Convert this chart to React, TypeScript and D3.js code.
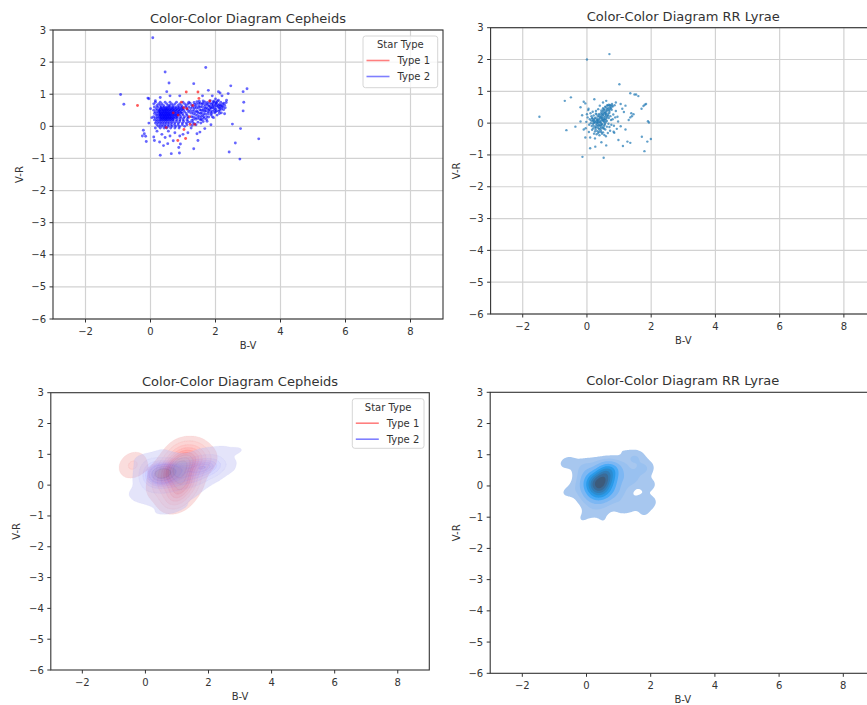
import React from "react";
import * as d3 from "d3";

// ---------------- data ----------------
const xTicks = [-2, 0, 2, 4, 6, 8];
const yTicks = [3, 2, 1, 0, -1, -2, -3, -4, -5, -6];
const xDomain: [number, number] = [-3, 9];
const yDomain: [number, number] = [-6, 3];
const starTypes = ["Type 1", "Type 2"];
const starColors = ["red", "blue"];
const rrColor = "#1f77b4";
const titleCepheids = "Color-Color Diagram Cepheids";
const titleRR = "Color-Color Diagram RR Lyrae";

const cepheidType1: [number, number][] = [
  [-0.4, 0.65], [1.1, 1.07], [1.46, 1.07], [1.49, 0.87], [1.82, 0.79],
  [1.02, 0.58], [1.12, 0.55], [1.22, 0.06], [1.36, 0.06], [0.48, -0.04], [1.03, -0.1],
  [0.84, -0.44], [1.08, -0.38], [0.7, 0.42], [0.85, 0.35], [1.3, 0.65], [1.2, 0.3], [0.95, 0.75],
];

const cepheidType2Outliers: [number, number][] = [
  [0.07, 2.76], [1.7, 1.83], [0.45, 1.69], [0.57, 1.35], [1.33, 1.33], [2.47, 1.26], [2.97, 1.17],
  [2.85, 1.08], [1.78, 1.12], [2.09, 1.08], [2.14, 1.04], [0.5, 1.08], [-0.92, 0.99], [-0.82, 0.69],
  [-0.08, 0.88], [-0.05, 0.86], [2.39, 1.02], [2.34, 0.81], [2.87, 0.75], [2.85, 0.48], [2.28, 0.39],
  [2.52, 0.07], [2.77, -0.07], [3.33, -0.39], [2.61, -0.52], [2.42, -0.8], [2.75, -1.02], [1.86, 0.05],
  [1.67, -0.07], [1.46, -0.44], [1.43, -0.23], [1.52, -0.18], [1.33, -0.7], [0.87, -0.66], [0.89, -0.83],
  [0.92, -0.55], [0.64, -0.85], [0.53, -0.54], [0.3, -0.9], [0.28, -0.49], [0.1, -0.33], [0.12, -0.44],
  [-0.22, -0.12], [-0.19, -0.23], [-0.15, -0.31], [-0.25, -0.3], [-0.13, -0.47], [0.04, 0.27], [0.0, 0.55],
  [-0.05, 0.1], [0.35, -0.25], [0.45, -0.35], [0.6, -0.3], [0.7, -0.45], [0.75, -0.2], [0.2, -0.15],
  [0.15, -0.05], [0.55, -0.15], [1.0, -0.25], [1.15, -0.2], [1.25, -0.05], [0.9, -0.3], [0.4, -0.6],
  [1.9, 0.95], [2.0, 0.85], [2.2, 0.95], [1.6, 0.95], [0.9, 0.95], [0.3, 0.9], [0.15, 0.8], [0.6, 0.95],
];

// rows of the dense left core: [V-R, list of B-V]
const cepheidType2Rows: [number, number[]][] = [
  [0.75, [0.15, 0.3, 0.45, 0.6, 0.8, 1.0, 1.18]],
  [0.7, [0.1, 0.25, 0.35, 0.5, 0.65, 0.75, 0.9, 1.05, 1.15]],
  [0.65, [0.2, 0.3, 0.4, 0.55, 0.6, 0.7, 0.85, 0.95, 1.1]],
  [0.6, [0.12, 0.22, 0.33, 0.42, 0.5, 0.58, 0.68, 0.78, 0.88, 0.98, 1.08, 1.18]],
  [0.55, [0.18, 0.28, 0.36, 0.45, 0.52, 0.62, 0.7, 0.8, 0.9, 1.0, 1.12]],
  [0.5, [0.1, 0.2, 0.27, 0.35, 0.42, 0.48, 0.55, 0.63, 0.72, 0.82, 0.92, 1.02, 1.15]],
  [0.45, [0.15, 0.24, 0.3, 0.38, 0.45, 0.5, 0.58, 0.66, 0.75, 0.85, 0.95, 1.05, 1.18]],
  [0.4, [0.12, 0.2, 0.28, 0.34, 0.4, 0.47, 0.53, 0.6, 0.68, 0.78, 0.88, 0.98, 1.1]],
  [0.35, [0.18, 0.25, 0.32, 0.38, 0.44, 0.5, 0.56, 0.63, 0.72, 0.8, 0.9, 1.0, 1.12]],
  [0.3, [0.1, 0.2, 0.27, 0.33, 0.4, 0.46, 0.52, 0.58, 0.65, 0.74, 0.83, 0.93, 1.05, 1.15]],
  [0.25, [0.15, 0.23, 0.3, 0.37, 0.43, 0.5, 0.57, 0.64, 0.72, 0.82, 0.92, 1.02, 1.15]],
  [0.2, [0.12, 0.2, 0.28, 0.35, 0.42, 0.48, 0.55, 0.62, 0.7, 0.8, 0.9, 1.0, 1.12]],
  [0.15, [0.18, 0.26, 0.33, 0.4, 0.47, 0.54, 0.62, 0.7, 0.8, 0.9, 1.02, 1.15]],
  [0.1, [0.15, 0.24, 0.32, 0.4, 0.48, 0.56, 0.65, 0.75, 0.86, 0.98, 1.1]],
  [0.05, [0.2, 0.3, 0.38, 0.46, 0.55, 0.64, 0.74, 0.85, 0.98, 1.12]],
  [0.0, [0.25, 0.35, 0.45, 0.55, 0.66, 0.78, 0.9, 1.05]],
  [-0.05, [0.3, 0.42, 0.5, 0.62, 0.75, 0.88]],
  [0.57, [0.32, 0.4, 0.48, 0.56, 0.65, 0.74, 0.84, 0.95]],
  [0.52, [0.3, 0.38, 0.46, 0.53, 0.6, 0.68, 0.77, 0.87, 0.97]],
  [0.47, [0.28, 0.36, 0.43, 0.52, 0.6, 0.69, 0.78, 0.88]],
  [0.42, [0.3, 0.37, 0.44, 0.51, 0.57, 0.65, 0.73, 0.83, 0.93]],
  [0.37, [0.29, 0.35, 0.42, 0.48, 0.55, 0.6, 0.68, 0.76, 0.85]],
  [0.32, [0.3, 0.37, 0.43, 0.49, 0.55, 0.62, 0.7, 0.8]],
  [0.27, [0.33, 0.4, 0.47, 0.54, 0.6, 0.68, 0.77]],
  [0.22, [0.32, 0.39, 0.46, 0.52, 0.6, 0.68]],
];

// the sparser right-hand part of the Cepheid cluster
const cepheidType2Right: [number, number][] = [
  [1.22, 0.72], [1.25, 0.41], [1.27, 0.18], [1.29, 0.6], [1.31, 0.29], [1.33, 0.52], [1.35, 0.08], [1.36, 0.68],
  [1.38, 0.37], [1.4, 0.22], [1.41, 0.57], [1.43, 0.77], [1.45, 0.45], [1.46, 0.13], [1.48, 0.63], [1.5, 0.31],
  [1.52, 0.51], [1.53, 0.72], [1.55, 0.2], [1.57, 0.42], [1.58, 0.61], [1.6, 0.34], [1.62, 0.79], [1.63, 0.54],
  [1.65, 0.25], [1.67, 0.47], [1.68, 0.67], [1.7, 0.38], [1.72, 0.58], [1.74, 0.16], [1.75, 0.74], [1.77, 0.45],
  [1.79, 0.29], [1.8, 0.63], [1.82, 0.52], [1.84, 0.8], [1.86, 0.36], [1.88, 0.69], [1.9, 0.47], [1.92, 0.58],
  [1.94, 0.27], [1.95, 0.76], [1.97, 0.42], [1.99, 0.64], [2.01, 0.53], [2.03, 0.72], [2.05, 0.35], [2.07, 0.6],
  [2.09, 0.81], [2.1, 0.47], [2.12, 0.68], [2.14, 0.56], [2.16, 0.75], [2.18, 0.42], [2.2, 0.62], [2.22, 0.7],
  [2.25, 0.52], [2.28, 0.66], [2.3, 0.58], [2.33, 0.74], [1.24, 0.56], [1.3, 0.46], [1.34, 0.74], [1.39, 0.63],
  [1.44, 0.34], [1.49, 0.71], [1.54, 0.4], [1.59, 0.69], [1.64, 0.39], [1.69, 0.55], [1.73, 0.7], [1.78, 0.39],
  [1.83, 0.62], [1.87, 0.56], [1.91, 0.72], [1.96, 0.5], [2.0, 0.45], [2.04, 0.64], [2.11, 0.58], [2.17, 0.66],
  [1.26, 0.3], [1.37, 0.27], [1.47, 0.57], [1.56, 0.3], [1.66, 0.61], [1.76, 0.55], [1.85, 0.45], [1.93, 0.66],
  [2.02, 0.74], [2.13, 0.5], [1.21, 0.12], [1.28, 0.03], [1.32, 0.39], [1.42, 0.48], [1.51, 0.23], [1.61, 0.49],
  [1.23, 0.49], [1.27, 0.66], [1.32, 0.21], [1.35, 0.58], [1.38, 0.45], [1.42, 0.7], [1.45, 0.26], [1.48, 0.41],
  [1.5, 0.78], [1.53, 0.6], [1.56, 0.5], [1.58, 0.22], [1.61, 0.72], [1.64, 0.3], [1.67, 0.76], [1.7, 0.48],
  [1.73, 0.3], [1.76, 0.66], [1.79, 0.5], [1.82, 0.72], [1.85, 0.58], [1.88, 0.4], [1.91, 0.62], [1.94, 0.78],
  [1.97, 0.57], [2.0, 0.7], [2.03, 0.48], [2.06, 0.78], [2.09, 0.66], [2.12, 0.4], [2.15, 0.62], [2.19, 0.54],
  [2.23, 0.6], [2.26, 0.72], [1.3, 0.12], [1.4, 0.05], [1.55, 0.1], [1.62, 0.15], [1.72, 0.22], [1.9, 0.3],
];

const rrLyraeOutliers: [number, number][] = [
  [-1.48, 0.2], [0.0, 2.0], [0.7, 2.17], [1.01, 1.22], [1.35, 0.94], [1.48, 0.9], [1.53, 0.9],
  [-0.69, 0.7], [-0.5, 0.81], [-0.1, 0.67], [-0.05, 0.62], [0.23, 0.75], [1.84, 0.6], [1.76, 0.54],
  [1.8, 0.58], [1.7, 0.45], [1.38, 0.31], [1.4, 0.22], [1.35, 0.18], [1.45, 0.28], [1.9, 0.06],
  [1.93, 0.02], [1.99, -0.5], [1.88, -0.58], [1.71, -0.43], [1.79, -0.88], [-0.64, -0.22], [-0.36, -0.11],
  [-0.14, -1.06], [0.52, -1.09], [0.1, -0.79], [0.26, -0.74], [1.12, -0.72], [1.26, -0.58], [1.35, -0.62],
  [0.98, -0.53], [0.6, -0.7], [0.45, -0.6], [-0.2, 0.5], [-0.15, 0.25], [-0.2, 0.05], [-0.1, -0.2],
  [-0.05, -0.45], [0.05, 0.45], [1.1, 0.45], [1.2, 0.55], [1.05, 0.6], [0.95, 0.2], [1.2, -0.2],
  [1.05, -0.1], [0.85, -0.3], [1.3, 0.1], [1.6, 0.85], [0.9, 0.65], [0.6, 0.7], [0.5, 0.65],
  [0.4, 0.55], [1.15, 0.35],
];

const rrLyraeCore: [number, number][] = [
  [0.02, 0.18], [0.07, -0.05], [0.11, 0.31], [0.13, 0.08], [0.16, -0.21], [0.17, 0.14], [0.19, -0.02], [0.21, 0.24],
  [0.22, -0.33], [0.24, 0.05], [0.26, -0.12], [0.27, 0.17], [0.28, 0.38], [0.29, -0.06], [0.31, 0.09], [0.32, -0.25],
  [0.33, 0.02], [0.34, 0.21], [0.35, -0.15], [0.36, 0.11], [0.37, -0.04], [0.38, 0.29], [0.39, -0.38], [0.4, 0.06],
  [0.41, -0.09], [0.42, 0.16], [0.43, -0.22], [0.44, 0.01], [0.45, 0.34], [0.46, -0.13], [0.47, 0.12], [0.48, -0.03],
  [0.49, 0.25], [0.5, -0.29], [0.51, 0.07], [0.52, 0.44], [0.53, -0.17], [0.54, 0.19], [0.55, -0.06], [0.56, 0.31],
  [0.57, 0.52], [0.58, 0.03], [0.59, -0.41], [0.6, 0.14], [0.61, 0.39], [0.62, -0.11], [0.63, 0.56], [0.64, 0.23],
  [0.66, 0.47], [0.67, -0.02], [0.68, 0.58], [0.7, 0.33], [0.71, 0.51], [0.72, -0.24], [0.74, 0.55], [0.75, 0.1],
  [0.77, 0.42], [0.78, 0.6], [0.8, 0.52], [0.82, 0.27], [0.84, -0.08], [0.86, 0.56], [0.9, 0.38], [0.93, -0.18],
  [0.97, 0.05], [-0.02, 0.04], [-0.04, -0.16], [0.0, 0.28], [0.04, 0.41], [0.06, -0.28], [0.09, 0.12], [0.1, -0.45],
  [0.14, 0.22], [0.15, -0.09], [0.18, 0.36], [0.2, -0.16], [0.23, 0.11], [0.25, -0.48], [0.27, -0.2], [0.3, 0.27],
  [0.3, -0.35], [0.32, 0.13], [0.35, 0.44], [0.36, -0.07], [0.38, -0.27], [0.4, 0.2], [0.42, -0.16], [0.44, 0.28],
  [0.46, -0.05], [0.47, -0.33], [0.49, 0.1], [0.5, 0.38], [0.52, -0.1], [0.54, -0.37], [0.55, 0.12], [0.57, -0.2],
  [0.6, 0.28], [0.62, 0.07], [0.65, -0.31], [0.68, 0.16], [0.7, -0.12], [0.73, 0.22], [0.76, -0.05], [0.8, 0.12],
  [0.83, -0.27], [0.88, 0.18], [0.12, 0.0], [0.18, 0.06], [0.21, -0.08], [0.24, 0.15], [0.26, 0.02], [0.28, -0.14],
  [0.3, 0.05], [0.33, -0.1], [0.34, 0.08], [0.36, 0.03], [0.38, -0.19], [0.39, 0.14], [0.41, 0.02], [0.43, -0.06],
  [0.45, 0.08], [0.48, 0.18], [0.5, -0.16], [0.53, 0.04], [0.56, -0.02], [0.58, 0.21], [0.2, 0.09], [0.25, -0.26],
  [0.31, -0.01], [0.37, 0.24], [0.44, -0.28], [0.51, 0.26], [0.28, 0.3], [0.16, 0.16], [0.22, 0.01], [0.35, -0.31],
  [0.45, 0.4], [0.5, 0.47], [0.55, 0.42], [0.58, 0.5], [0.62, 0.45], [0.65, 0.55], [0.69, 0.43], [0.72, 0.57],
  [0.75, 0.48], [0.79, 0.55], [0.52, 0.32], [0.56, 0.36], [0.6, 0.33], [0.64, 0.4], [0.67, 0.3], [0.7, 0.38],
  [0.73, 0.45], [0.48, 0.3], [0.44, 0.22], [0.58, 0.26], [0.62, 0.18], [0.66, 0.24], [0.53, 0.13], [0.57, 0.09],
  [0.46, 0.17],
];

const expandRows = (rows: [number, number[]][]): [number, number][] =>
  rows.flatMap(([y, xs]) => xs.map((x) => [x, y] as [number, number]));

const cepheidType2: [number, number][] = [...cepheidType2Outliers, ...expandRows(cepheidType2Rows), ...cepheidType2Right];
const rrLyrae: [number, number][] = [...rrLyraeOutliers, ...rrLyraeCore];

// ---------------- HUSL colormap (seaborn-style) ----------------
const HM = [
  [3.240969941904521, -1.537383177570093, -0.498610760293],
  [-0.96924363628087, 1.87596750150772, 0.041555057407175],
  [0.055630079696993, -0.20397695888897, 1.056971514242878],
];
const HMINV = [
  [0.41239079926595, 0.35758433938387, 0.18048078840183],
  [0.21263900587151, 0.71516867876775, 0.072192315360733],
  [0.019330818715591, 0.11919477979462, 0.95053215224966],
];
const REFU = 0.19783000664283;
const REFV = 0.46831999493879;
const KAPPA = 903.2962962;
const EPS = 0.0088564516;

function getBounds(L: number) {
  const res: [number, number][] = [];
  const sub1 = Math.pow(L + 16, 3) / 1560896;
  const sub2 = sub1 > EPS ? sub1 : L / KAPPA;
  for (let c = 0; c < 3; c++) {
    const [m1, m2, m3] = HM[c];
    for (let t = 0; t < 2; t++) {
      const top1 = (284517 * m1 - 94839 * m3) * sub2;
      const top2 = (838422 * m3 + 769860 * m2 + 731718 * m1) * L * sub2 - 769860 * t * L;
      const bottom = (632260 * m3 - 126452 * m2) * sub2 + 126452 * t;
      res.push([top1 / bottom, top2 / bottom]);
    }
  }
  return res;
}
function maxChroma(L: number, H: number) {
  const hr = (H / 360) * Math.PI * 2;
  let m = Infinity;
  for (const [s, i] of getBounds(L)) {
    const len = i / (Math.sin(hr) - s * Math.cos(hr));
    if (len >= 0) m = Math.min(m, len);
  }
  return m;
}
const fromLinear = (c: number) => (c <= 0.0031308 ? 12.92 * c : 1.055 * Math.pow(c, 1 / 2.4) - 0.055);
const toLinear = (c: number) => (c > 0.04045 ? Math.pow((c + 0.055) / 1.055, 2.4) : c / 12.92);
function husl2rgb(H: number, S: number, L: number) {
  if (L > 99.9999999) return [1, 1, 1];
  if (L < 1e-8) return [0, 0, 0];
  const C = (maxChroma(L, H) / 100) * S;
  const hr = (H / 360) * 2 * Math.PI;
  const U = C * Math.cos(hr);
  const V = C * Math.sin(hr);
  const varU = U / (13 * L) + REFU;
  const varV = V / (13 * L) + REFV;
  const Y = L <= 8 ? L / KAPPA : Math.pow((L + 16) / 116, 3);
  const X = 0 - (9 * Y * varU) / ((varU - 4) * varV - varU * varV);
  const Z = (9 * Y - 15 * varV * Y - varV * X) / (3 * varV);
  return HM.map((r) => fromLinear(r[0] * X + r[1] * Y + r[2] * Z));
}
function rgb2husl(r: number, g: number, b: number) {
  const lr = toLinear(r), lg = toLinear(g), lb = toLinear(b);
  const [X, Y, Z] = HMINV.map((row) => row[0] * lr + row[1] * lg + row[2] * lb);
  const L = Y <= EPS ? Y * KAPPA : 116 * Math.cbrt(Y) - 16;
  if (L < 1e-8) return [0, 0, 0];
  const d = X + 15 * Y + 3 * Z;
  const U = 13 * L * ((4 * X) / d - REFU);
  const V = 13 * L * ((9 * Y) / d - REFV);
  const C = Math.hypot(U, V);
  let H = (Math.atan2(V, U) * 180) / Math.PI;
  if (H < 0) H += 360;
  const S = (C / maxChroma(L, H)) * 100;
  return [H, S, L];
}
function cmapFromColor(color: string) {
  const c = d3.rgb(color);
  const [h, s] = rgb2husl(c.r / 255, c.g / 255, c.b / 255);
  const cols: string[] = [];
  for (let i = 0; i < 256; i++) {
    const xx = -1 + (2 * i) / 293;
    const L = 35 + (45 * i) / 255;
    const rgb = husl2rgb(h, s * Math.cos(xx), L).map((v) => Math.max(0, Math.min(1, v)));
    cols.push(d3.rgb(rgb[0] * 255, rgb[1] * 255, rgb[2] * 255).formatHex());
  }
  cols.reverse();
  return (t: number) => cols[Math.max(0, Math.min(255, Math.floor(t * 256)))];
}

// ---------------- KDE (scipy-like, Scott bandwidth) ----------------
type Grid = { values: number[]; nx: number; ny: number; gx0: number; gy0: number; dx: number; dy: number };
function kdeGrid(points: [number, number][], nx = 140, ny = 140): Grid {
  const n = points.length;
  const mx = d3.mean(points, (p) => p[0])!;
  const my = d3.mean(points, (p) => p[1])!;
  let sxx = 0, syy = 0, sxy = 0;
  for (const [x, y] of points) {
    sxx += (x - mx) ** 2;
    syy += (y - my) ** 2;
    sxy += (x - mx) * (y - my);
  }
  const f = Math.pow(n, -1 / 6);
  const cxx = (sxx / (n - 1)) * f * f;
  const cyy = (syy / (n - 1)) * f * f;
  const cxy = (sxy / (n - 1)) * f * f;
  const det = cxx * cyy - cxy * cxy;
  const ixx = cyy / det, iyy = cxx / det, ixy = -cxy / det;
  const bx = Math.sqrt(cxx), by = Math.sqrt(cyy);
  const [xmin, xmax] = d3.extent(points, (p) => p[0]) as [number, number];
  const [ymin, ymax] = d3.extent(points, (p) => p[1]) as [number, number];
  const gx0 = xmin - 3 * bx, gx1 = xmax + 3 * bx;
  const gy0 = ymin - 3 * by, gy1 = ymax + 3 * by;
  const dx = (gx1 - gx0) / (nx - 1), dy = (gy1 - gy0) / (ny - 1);
  const values = new Array(nx * ny).fill(0);
  for (let j = 0; j < ny; j++) {
    const y = gy0 + j * dy;
    for (let i = 0; i < nx; i++) {
      const x = gx0 + i * dx;
      let s = 0;
      for (let k = 0; k < n; k++) {
        const ex = x - points[k][0], ey = y - points[k][1];
        s += Math.exp(-0.5 * (ixx * ex * ex + 2 * ixy * ex * ey + iyy * ey * ey));
      }
      values[j * nx + i] = s;
    }
  }
  return { values, nx, ny, gx0, gy0, dx, dy };
}
function isoLevels(values: number[], nLevels = 10, thresh = 0.05) {
  const sorted = [...values].sort((a, b) => b - a);
  const total = d3.sum(sorted);
  let acc = 0;
  const cum = sorted.map((v) => (acc += v) / total);
  const props = d3.range(nLevels).map((i) => thresh + ((1 - thresh) * i) / (nLevels - 1));
  return props.map((q) => sorted[Math.min(sorted.length - 1, d3.bisectLeft(cum, 1 - q))]);
}

type Panel = { left: number; right: number; top: number; bottom: number };

function KdeBands({ grid, sx, sy, color, alpha, annuli }: { grid: Grid; sx: any; sy: any; color: string; alpha: number; annuli: boolean }) {
  const levels = isoLevels(grid.values);
  const cmap = cmapFromColor(color);
  const gen = d3.contours().size([grid.nx, grid.ny]);
  const proj = d3.geoTransform({
    point(x: number, y: number) {
      (this as any).stream.point(sx(grid.gx0 + (x - 0.5) * grid.dx), sy(grid.gy0 + (y - 0.5) * grid.dy));
    },
  });
  const path = d3.geoPath(proj as any);
  const lo = levels[0], hi = levels[levels.length - 1];
  const bands = [];
  for (let i = 0; i < levels.length - 1; i++) {
    const lower = path(gen.contour(grid.values, levels[i]) as any) || "";
    const upper = annuli && i < levels.length - 2 ? path(gen.contour(grid.values, levels[i + 1]) as any) || "" : "";
    const mid = (levels[i] + levels[i + 1]) / 2;
    const c = cmap((mid - lo) / (hi - lo));
    bands.push(
      <path key={i} d={lower + upper} fill={c} fillRule="evenodd" fillOpacity={alpha}
        stroke={annuli ? c : "none"} strokeOpacity={alpha * 0.45} strokeWidth={0.5} />
    );
  }
  return <g>{bands}</g>;
}

function Axes({ p, id, title, grid, children }: { p: Panel; id: string; title: string; grid: boolean; children: (sx: any, sy: any) => React.ReactNode }) {
  const sx = d3.scaleLinear().domain(xDomain).range([p.left, p.right]);
  const sy = d3.scaleLinear().domain(yDomain).range([p.bottom, p.top]);
  const fmt = (t: number) => (t < 0 ? "\u2212" + Math.abs(t) : String(t));
  const axisColor = "#333";
  return (
    <g>
      <defs>
        <clipPath id={id}>
          <rect x={p.left} y={p.top} width={p.right - p.left} height={p.bottom - p.top} />
        </clipPath>
      </defs>
      {grid && (
        <g stroke="#d2d2d2" strokeWidth={1.2}>
          {xTicks.map((t) => <line key={"gx" + t} x1={sx(t)} x2={sx(t)} y1={p.top} y2={p.bottom} />)}
          {yTicks.map((t) => <line key={"gy" + t} x1={p.left} x2={p.right} y1={sy(t)} y2={sy(t)} />)}
        </g>
      )}
      <g clipPath={`url(#${id})`}>{children(sx, sy)}</g>
      <rect x={p.left} y={p.top} width={p.right - p.left} height={p.bottom - p.top} fill="none" stroke={axisColor} strokeWidth={1.1} />
      <g stroke={axisColor} strokeWidth={1}>
        {xTicks.map((t) => <line key={"tx" + t} x1={sx(t)} x2={sx(t)} y1={p.bottom} y2={p.bottom + 3.5} />)}
        {yTicks.map((t) => <line key={"ty" + t} x1={p.left - 3.5} x2={p.left} y1={sy(t)} y2={sy(t)} />)}
      </g>
      <g fontSize={10} fill="#333">
        {xTicks.map((t) => (
          <text key={"lx" + t} x={sx(t)} y={p.bottom + 12.3} textAnchor="middle" dominantBaseline="central">{fmt(t)}</text>
        ))}
        {yTicks.map((t) => (
          <text key={"ly" + t} x={p.left - 7} y={sy(t)} textAnchor="end" dominantBaseline="central">{fmt(t)}</text>
        ))}
        <text x={(p.left + p.right) / 2} y={p.bottom + 26.5} textAnchor="middle" dominantBaseline="central">B-V</text>
        <text transform={`translate(${p.left - 34},${(p.top + p.bottom) / 2}) rotate(-90)`} textAnchor="middle" dominantBaseline="central">V-R</text>
      </g>
      <text x={(p.left + p.right) / 2} y={p.top - 11.5} textAnchor="middle" dominantBaseline="central" fontSize={13} fill="#333">{title}</text>
    </g>
  );
}

function Legend({ x, y, w, h }: { x: number; y: number; w: number; h: number }) {
  return (
    <g fontSize={10} fill="#333">
      <rect x={x} y={y} width={w} height={h} rx={2.5} fill="#fff" fillOpacity={0.8} stroke="#d6d6d6" strokeWidth={1} />
      <text x={x + w / 2} y={y + 8.5} textAnchor="middle" dominantBaseline="central">Star Type</text>
      {starTypes.map((t, i) => (
        <g key={t}>
          <line x1={x + 3.5} x2={x + 26.5} y1={y + 24.5 + i * 16} y2={y + 24.5 + i * 16} stroke={starColors[i]} strokeOpacity={0.5} strokeWidth={1.6} />
          <text x={x + 34.5} y={y + 24.5 + i * 16} dominantBaseline="central">{t}</text>
        </g>
      ))}
    </g>
  );
}

const P1: Panel = { left: 53, right: 443, top: 30, bottom: 319 };
const P2: Panel = { left: 490.6, right: 876, top: 27.7, bottom: 314 };
const P3: Panel = { left: 50.8, right: 429.3, top: 392.7, bottom: 670 };
const P4: Panel = { left: 490.2, right: 875.4, top: 392.3, bottom: 673.3 };

export default function App() {
  const grids = React.useMemo(
    () => ({ t1: kdeGrid(cepheidType1), t2: kdeGrid(cepheidType2), rr: kdeGrid(rrLyrae) }),
    []
  );
  return (
    <svg width={867} height={705} style={{ position: "absolute", left: 0, top: 0, background: "#fff" }} fontFamily="DejaVu Sans">
      <rect x={0} y={0} width={867} height={705} fill="#fff" />
      <Axes p={P1} id="c1" title={titleCepheids} grid={true}>
        {(sx, sy) => (
          <g>
            {cepheidType2.map((d, i) => <circle key={"b" + i} cx={sx(d[0])} cy={sy(d[1])} r={1.45} fill={starColors[1]} fillOpacity={0.6} />)}
            {cepheidType1.map((d, i) => <circle key={"r" + i} cx={sx(d[0])} cy={sy(d[1])} r={1.45} fill={starColors[0]} fillOpacity={0.65} />)}
          </g>
        )}
      </Axes>
      <Legend x={363} y={36} w={74.7} h={51.7} />
      <Axes p={P2} id="c2" title={titleRR} grid={true}>
        {(sx, sy) => (
          <g>
            {rrLyrae.map((d, i) => <circle key={"rr" + i} cx={sx(d[0])} cy={sy(d[1])} r={1.2} fill={rrColor} fillOpacity={0.7} />)}
          </g>
        )}
      </Axes>
      <Axes p={P3} id="c3" title={titleCepheids} grid={false}>
        {(sx, sy) => (
          <g>
            <KdeBands grid={grids.t1} sx={sx} sy={sy} color={starColors[0]} alpha={0.42} annuli={true} />
            <KdeBands grid={grids.t2} sx={sx} sy={sy} color={starColors[1]} alpha={0.42} annuli={true} />
          </g>
        )}
      </Axes>
      <Legend x={352.3} y={398.7} w={71.7} h={49.6} />
      <Axes p={P4} id="c4" title={titleRR} grid={false}>
        {(sx, sy) => <KdeBands grid={grids.rr} sx={sx} sy={sy} color={rrColor} alpha={1} annuli={false} />}
      </Axes>
    </svg>
  );
}
